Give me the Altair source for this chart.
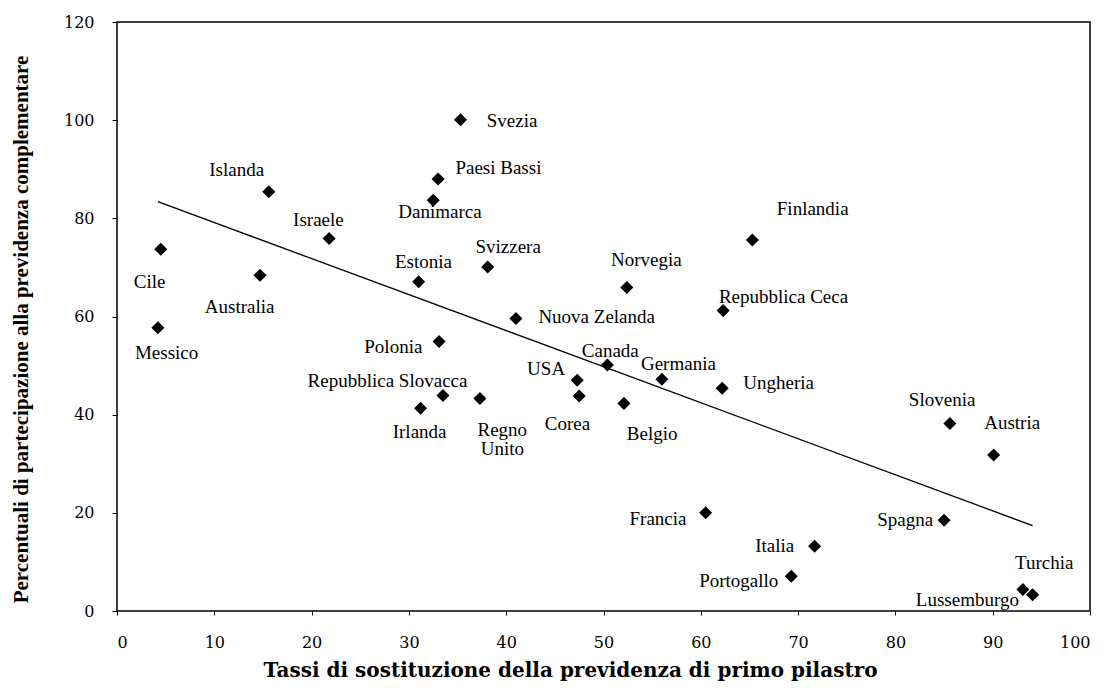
import altair as alt
import pandas as pd

# ---- data ----
countries = ["Svezia", "Paesi Bassi", "Islanda", "Danimarca", "Israele", "Cile",
             "Australia", "Estonia", "Svizzera", "Nuova Zelanda", "Finlandia",
             "Norvegia", "Repubblica Ceca", "Messico", "Polonia",
             "Repubblica Slovacca", "Irlanda", "Regno\nUnito", "USA", "Corea",
             "Canada", "Germania", "Belgio", "Ungheria", "Slovenia", "Austria",
             "Francia", "Spagna", "Italia", "Portogallo", "Turchia", "Lussemburgo"]
replacement_rate = [35.3, 33.0, 15.6, 32.5, 21.8, 4.5, 14.7, 31.0, 38.1, 41.0, 65.3,
                    52.4, 62.3, 4.2, 33.1, 33.5, 31.2, 37.3, 47.3, 47.5,
                    50.4, 56.0, 52.1, 62.2, 85.6, 90.1, 60.5, 85.0, 71.7, 69.3, 93.1, 94.1]
participation = [100.1, 88.0, 85.4, 83.7, 75.9, 73.7, 68.4, 67.1, 70.1, 59.6, 75.6,
                 65.9, 61.2, 57.7, 54.9, 43.9, 41.3, 43.3, 47.0, 43.8,
                 50.1, 47.2, 42.3, 45.4, 38.2, 31.8, 20.0, 18.5, 13.2, 7.1, 4.4, 3.3]
# label anchor positions (data units), as placed in the reference
label_x = [40.6, 39.2, 12.3, 33.2, 20.7, 3.35, 12.6, 31.5, 40.2, 49.3, 71.5,
           54.4, 68.5, 5.1, 28.4, 27.8, 31.1, 39.6, 44.1, 46.3,
           50.7, 57.7, 55.0, 68.0, 84.8, 92.0, 55.6, 81.0, 67.6, 63.9, 95.3, 87.4]
label_y = [99.8, 90.2, 89.8, 81.2, 79.6, 67.1, 62.0, 71.1, 74.2, 59.9, 81.8,
           71.5, 64.0, 52.6, 53.8, 46.8, 36.4, 36.9, 49.4, 38.1,
           53.0, 50.4, 36.0, 46.4, 43.0, 38.4, 18.7, 18.5, 13.2, 6.1, 9.7, 2.2]

trend_x = [4.2, 94.1]
trend_y = [83.4, 17.4]

x_ticks = [0, 10, 20, 30, 40, 50, 60, 70, 80, 90, 100]
y_ticks = [0, 20, 40, 60, 80, 100, 120]

X_TITLE = "Tassi di sostituzione della previdenza di primo pilastro"
Y_TITLE = "Percentuali di partecipazione alla previdenza complementare"

pts = pd.DataFrame({"paese": countries, "x": replacement_rate, "y": participation,
                    "lx": label_x, "ly": label_y})
trend = pd.DataFrame({"x": trend_x, "y": trend_y})

xscale = alt.Scale(domain=[0, 100], nice=False, zero=False)
yscale = alt.Scale(domain=[0, 120], nice=False, zero=False)

x_axis = alt.Axis(values=x_ticks, title=X_TITLE,
                  grid=False, domain=False, ticks=True, tickSize=4, tickColor="black",
                  labelFont="DejaVu Serif", labelFontSize=16, labelColor="black",
                  labelPadding=19,
                  titleFont="DejaVu Serif", titleFontWeight="bold", titleFontSize=20,
                  titleColor="black", titleX=453, titleY=65, titleBaseline="alphabetic",
                  titleAlign="center")
y_axis = alt.Axis(values=y_ticks, title=Y_TITLE,
                  grid=False, domain=False, ticks=True, tickSize=5, tickColor="black",
                  labelFont="DejaVu Serif", labelFontSize=16, labelColor="black",
                  labelPadding=18,
                  titleFont="Liberation Serif", titleFontWeight="bold", titleFontSize=21,
                  titleColor="black", titleAngle=270, titleX=-90, titleY=307,
                  titleBaseline="alphabetic", titleAlign="center")

points = alt.Chart(pts).mark_point(shape="diamond", filled=True, size=170,
                                   color="black", opacity=1).encode(
    x=alt.X("x:Q", scale=xscale, axis=x_axis),
    y=alt.Y("y:Q", scale=yscale, axis=y_axis),
)

labels = alt.Chart(pts).mark_text(font="Liberation Serif", fontSize=19, color="black",
                                  align="center", baseline="middle",
                                  lineBreak="\n", lineHeight=19).encode(
    x=alt.X("lx:Q", scale=xscale, axis=x_axis),
    y=alt.Y("ly:Q", scale=yscale, axis=y_axis),
    text="paese:N",
)

line = alt.Chart(trend).mark_line(color="black", strokeWidth=1.3).encode(
    x=alt.X("x:Q", scale=xscale, axis=x_axis),
    y=alt.Y("y:Q", scale=yscale, axis=y_axis),
)

chart = alt.layer(points, labels, line).properties(
    width=973, height=589,
    autosize=alt.AutoSizeParams(type="none"),
    padding={"left": 109, "top": 14, "right": 14, "bottom": 71},
    background="white",
).configure_view(stroke="black", strokeWidth=1.5)

chart.save("out.html", embed_options={"renderer": "svg", "actions": False})
